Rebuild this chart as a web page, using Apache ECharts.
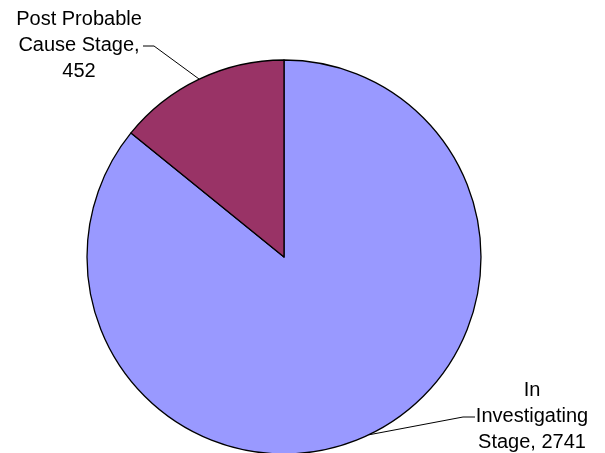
<!DOCTYPE html>
<html>
<head>
<meta charset="utf-8">
<script src="https://cdn.jsdelivr.net/npm/echarts@6/dist/echarts.min.js"></script>
<style>
html,body{margin:0;padding:0;background:#fff;}
#chart{width:605px;height:453px;}
</style>
</head>
<body>
<div id="chart"></div>
<script>
const categories = ['In\nInvestigating\nStage', 'Post Probable\nCause Stage'];
const valueSeparators = [', ', ',\n'];
const values = [2741, 452];
const colors = ['#9999FF', '#993366'];

const chart = echarts.init(document.getElementById('chart'), null, {renderer: 'canvas'});

// label placement (center of text block), and leader line elbow/end
const labelSpots = [
  {x: 532, y: 416, elbow: [463, 417], end: [475, 417]},
  {x: 79, y: 45, elbow: [154, 46], end: [143, 46]}
];

chart.setOption({
  animation: false,
  series: [{
    type: 'pie',
    center: [284, 257],
    radius: 197,
    startAngle: 90,
    clockwise: true,
    avoidLabelOverlap: false,
    data: categories.map((c, i) => ({
      name: c,
      value: values[i],
      itemStyle: {color: colors[i]}
    })),
    itemStyle: {borderColor: '#000', borderWidth: 1.3},
    label: {
      show: true,
      position: 'outside',
      formatter: p => p.name + valueSeparators[p.dataIndex] + p.value,
      fontFamily: 'Liberation Sans, Arial, sans-serif',
      fontSize: 20,
      lineHeight: 26,
      color: '#000',
      align: 'center'
    },
    labelLine: {
      show: true,
      length: 20,
      length2: 10,
      lineStyle: {color: '#000', width: 1}
    },
    labelLayout: function (params) {
      const s = labelSpots[params.dataIndex];
      const pts = params.labelLinePoints;
      const start = pts ? pts[0] : s.elbow;
      return {
        x: s.x,
        y: s.y,
        align: 'center',
        verticalAlign: 'middle',
        labelLinePoints: [start, s.elbow, s.end]
      };
    },
    emphasis: {disabled: true}
  }]
});
</script>
</body>
</html>
